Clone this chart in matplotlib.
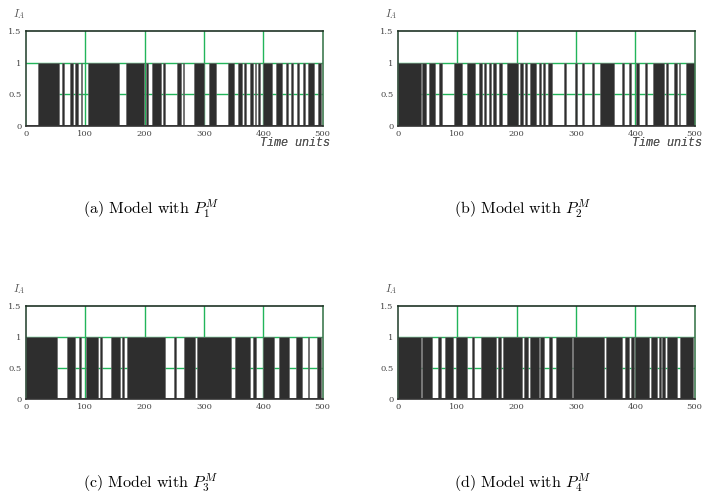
import matplotlib
matplotlib.use("Agg")
import matplotlib.pyplot as plt

plt.rcParams['mathtext.fontset'] = 'cm'

# ---- data: runs where I_A = 1 (start, end) in time units ----
a_starts = [21, 61, 75, 82, 92, 105, 169, 203, 213, 231, 254, 265, 284, 309, 340, 357, 368, 378, 386, 392, 399, 421, 439, 447, 457, 467, 476, 492]
a_ends   = [56, 64, 80, 88, 95, 156, 199, 206, 227, 235, 261, 267, 301, 320, 350, 364, 371, 382, 388, 395, 415, 432, 442, 450, 461, 470, 486, 497]

b_starts = [0, 40, 52, 69, 94, 117, 137, 145, 153, 161, 170, 184, 206, 214, 223, 237, 245, 253, 280, 298, 310, 327, 340, 377, 389, 402, 416, 430, 452, 466, 474, 486]
b_ends   = [38, 48, 63, 74, 108, 130, 141, 149, 157, 165, 175, 202, 210, 218, 233, 241, 248, 260, 283, 302, 314, 330, 365, 381, 393, 407, 420, 448, 456, 471, 476, 500]

c_starts = [0, 69, 90, 101, 125, 143, 162, 170, 249, 267, 288, 352, 383, 400, 427, 455, 475, 491]
c_ends   = [52, 83, 93, 121, 128, 159, 165, 235, 253, 285, 345, 378, 388, 419, 444, 466, 478, 497]

d_starts = [0, 40, 67, 80, 98, 124, 140, 169, 177, 212, 223, 240, 254, 267, 295, 350, 382, 393, 400, 427, 440, 446, 454, 476]
d_ends   = [38, 57, 72, 92, 116, 129, 165, 173, 209, 219, 237, 247, 260, 293, 347, 378, 389, 398, 423, 437, 443, 451, 470, 497]

x_ticks = [0, 100, 200, 300, 400, 500]
y_ticks = [0, 0.5, 1, 1.5]
y_tick_labels = ['0', '0.5', '1', '1.5']
captions = ['(a) Model with $P_1^M$', '(b) Model with $P_2^M$',
            '(c) Model with $P_3^M$', '(d) Model with $P_4^M$']

W, H = 704, 498
fig = plt.figure(figsize=(W / 100, H / 100), dpi=100)

panels = [
    (a_starts, a_ends, 26, 31.1, 125.9, 55),
    (b_starts, b_ends, 398, 31.1, 125.9, 38),
    (c_starts, c_ends, 26, 306.3, 399.3, 49),
    (d_starts, d_ends, 398, 306.3, 399.3, 38),
]
GREEN = '#22b55a'

for i, (st, en, left, top, bottom, half_start) in enumerate(panels):
    width = 296.5
    ax = fig.add_axes([left / W, 1 - bottom / H, width / W, (bottom - top) / H])
    ax.set_xlim(0, 500)
    ax.set_ylim(0, 1.5)
    # grid
    for xv in x_ticks[1:-1]:
        ax.axvline(xv, color=GREEN, lw=1.0, zorder=0)
    ax.axhline(1.0, color=GREEN, lw=1.0, zorder=0)
    ax.axhline(0.5, xmin=half_start / 500, xmax=1, color=GREEN, lw=1.0, zorder=0)
    # bars
    widths = [e - s for s, e in zip(st, en)]
    ax.bar(st, [1] * len(st), width=widths, align='edge', color='#2e2e2e',
           edgecolor='#6a6a6a', linewidth=0.5, zorder=2)
    ax.plot([0, 500], [0, 0], color='#333333', lw=1.2, zorder=3)
    # spines
    ax.spines['left'].set_color('#2f4a38')
    ax.spines['top'].set_color('#1f3326')
    ax.spines['right'].set_color('#3f7a50')
    ax.spines['bottom'].set_color('#333333')
    for s in ax.spines.values():
        s.set_linewidth(1.2)
    ax.set_xticks(x_ticks)
    ax.set_xticklabels([str(v) for v in x_ticks], fontsize=6, family='DejaVu Serif', color='#444444')
    ax.set_yticks(y_ticks)
    ax.set_yticklabels(y_tick_labels, fontsize=6, family='DejaVu Serif', color='#444444')
    ax.tick_params(length=0, pad=3)
    # labels
    fig.text((left + width + 8) / W, 1 - 143 / H, 'Time units', ha='right', va='center',
             fontsize=8.5, family='Liberation Mono', style='italic', color='#555555')
    fig.text((left - 13) / W, 1 - (top - 17) / H, r'$I_A$', ha='left', va='center',
             fontsize=8, color='#555555')
    cy = 209 if i < 2 else 483
    fig.text((left + 125) / W, 1 - cy / H, captions[i], ha='center', va='center',
             fontsize=11.5, family='cmr10')

fig.savefig('out.png', dpi=100)
